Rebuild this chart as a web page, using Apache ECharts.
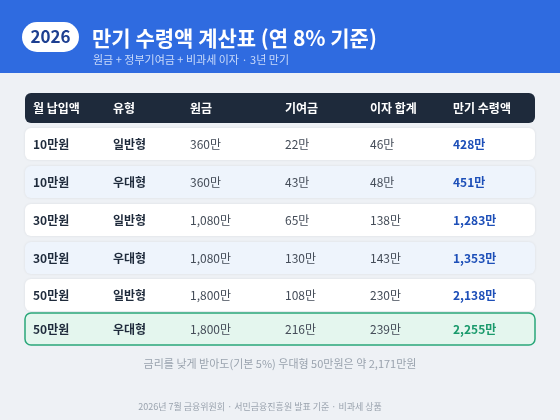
<!DOCTYPE html>
<html><head><meta charset="utf-8">
<script src="https://cdn.jsdelivr.net/npm/echarts@6/dist/echarts.min.js"></script>
<style>html,body{margin:0;padding:0;background:#eef1f5}#c{width:560px;height:420px}</style>
</head><body><div id="c"></div>
<script>
const headers = ['월 납입액','유형','원금','기여금','이자 합계','만기 수령액'];
const monthly = ['10만원','10만원','30만원','30만원','50만원','50만원'];
const types = ['일반형','우대형','일반형','우대형','일반형','우대형'];
const principal = ['360만','360만','1,080만','1,080만','1,800만','1,800만'];
const contribution = ['22만','43만','65만','130만','108만','216만'];
const interest = ['46만','48만','138만','143만','230만','239만'];
const total = ['428만','451만','1,283만','1,353만','2,138만','2,255만'];

const F = '"Noto Sans CJK KR", "Noto Sans", sans-serif';
const colX = [33, 113, 190, 285, 370, 453];
const els = [];
els.push({type:'rect', shape:{x:0,y:0,width:560,height:73}, style:{fill:'#2f6be0'}});
els.push({type:'rect', shape:{x:22,y:22,width:57,height:30,r:15}, style:{fill:'#fff'}});
els.push({type:'text', x:50.5, y:37, style:{text:'2026', font:'bold 17px '+F, fill:'#1d3f91', align:'center', verticalAlign:'middle'}});
els.push({type:'text', x:92, y:38, style:{text:'만기 수령액 계산표 (연 8% 기준)', font:'bold 21px '+F, fill:'#fff', verticalAlign:'middle'}});
els.push({type:'text', x:93, y:60, style:{text:'원금 + 정부기여금 + 비과세 이자 · 3년 만기', font:'11px '+F, fill:'#c9dafa', verticalAlign:'middle'}});
els.push({type:'rect', shape:{x:25,y:93,width:510,height:30,r:6}, style:{fill:'#1e2a3b'}});
headers.forEach((h,i)=>els.push({type:'text', x:colX[i], y:108, style:{text:h, font:'bold 12px '+F, fill:'#fff', verticalAlign:'middle'}}));
const rowY = [144,182,220,258,295,329];
monthly.forEach((m,i)=>{
  const last = i===5, cy=rowY[i];
  els.push({type:'rect', shape:{x:25,y:cy-16,width:510,height:32,r:6},
    style:{fill:last?'#e4f6ee':(i%2? '#eef4fc':'#ffffff'), stroke:last?'#2aa77a':null, lineWidth:last?1.5:0,
      shadowBlur:last?0:3, shadowColor:'rgba(0,0,0,0.08)'}});
  const vals=[m,types[i],principal[i],contribution[i],interest[i],total[i]];
  vals.forEach((v,j)=>{
    let font=(j<2||j==5?'bold ':'')+'12px '+F;
    let fill=j<2?'#1e2a3b':(j==5?(last?'#1a9a6c':'#1d4fb8'):'#444c58');
    els.push({type:'text', x:colX[j], y:cy, style:{text:v, font, fill, verticalAlign:'middle'}});
  });
});
els.push({type:'text', x:280, y:364, style:{text:'금리를 낮게 받아도(기본 5%) 우대형 50만원은 약 2,171만원', font:'11px '+F, fill:'#9aa3ae', align:'center', verticalAlign:'middle'}});
els.push({type:'text', x:260, y:407, style:{text:'2026년 7월 금융위원회 · 서민금융진흥원 발표 기준 · 비과세 상품', font:'9px '+F, fill:'#9aa3ae', align:'center', verticalAlign:'middle'}});
const chart = echarts.init(document.getElementById('c'));
chart.setOption({backgroundColor:'#eef1f5', graphic:{elements:els}});
</script></body></html>
